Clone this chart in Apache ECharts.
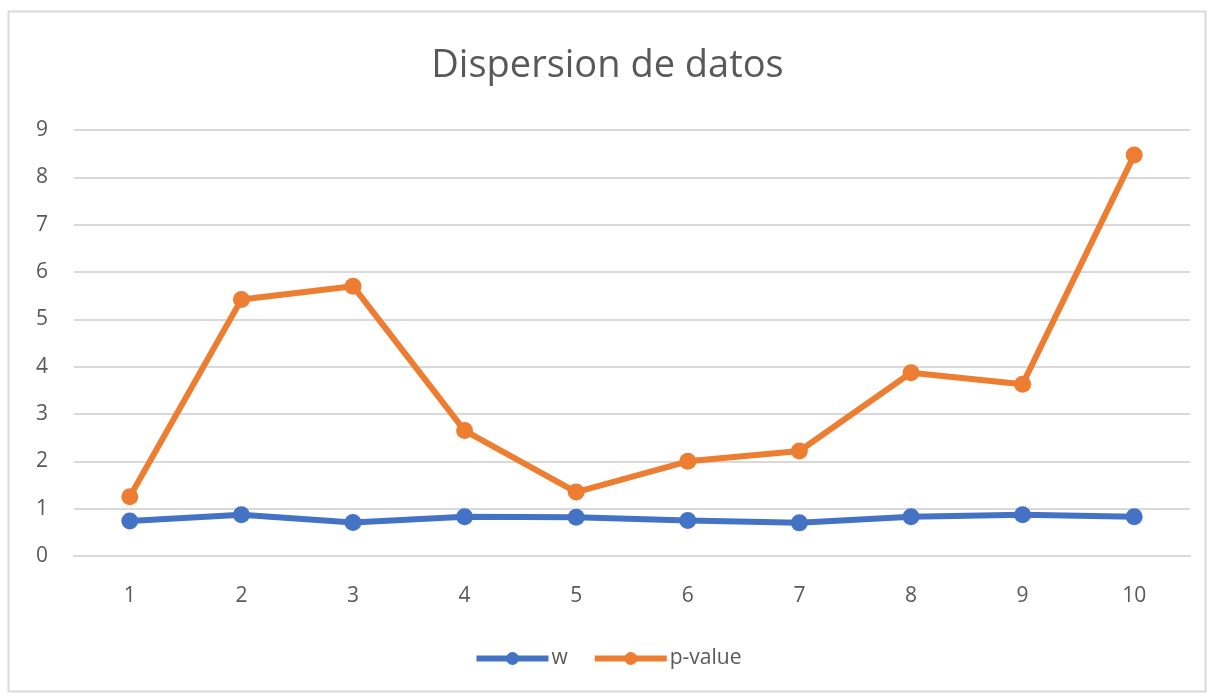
<!DOCTYPE html>
<html>
<head>
<meta charset="utf-8">
<script src="https://cdn.jsdelivr.net/npm/echarts@6/dist/echarts.min.js"></script>
<style>
html,body{margin:0;padding:0;background:#fff;}
#c{width:1215px;height:697px;}
</style>
</head>
<body>
<div id="c"></div>
<script>
const categories = ['1','2','3','4','5','6','7','8','9','10'];
const wValues = [0.74, 0.87, 0.71, 0.83, 0.82, 0.75, 0.70, 0.83, 0.87, 0.83];
const pValues = [1.25, 5.42, 5.70, 2.65, 1.35, 2.00, 2.22, 3.87, 3.63, 8.47];
const seriesNames = ['w', 'p-value'];
const titleText = 'Dispersion de datos';

const chart = echarts.init(document.getElementById('c'));
const font = '"Open Sans", "Noto Sans", sans-serif';
chart.setOption({
  animation: false,
  backgroundColor: '#fff',
  graphic: [{
    type: 'rect', shape: {x: 8.5, y: 11.5, width: 1197, height: 680},
    style: {fill: 'none', stroke: '#d9d9d9', lineWidth: 2}, silent: true
  }],
  title: {
    text: titleText, left: 'center', top: 42,
    textStyle: {fontFamily: font, fontSize: 38, fontWeight: 'normal', color: '#595959'}
  },
  legend: {
    bottom: 23, left: 'center', itemWidth: 72, itemHeight: 16, itemGap: 24,
    lineStyle: {width: 6},
    textStyle: {fontFamily: font, fontSize: 21, color: '#595959', padding: [0, 0, 0, -2]},
    data: seriesNames
  },
  grid: {left: 74, right: 25, top: 130, bottom: 141},
  xAxis: {
    type: 'category', data: categories, boundaryGap: true,
    axisLine: {lineStyle: {color: '#d9d9d9', width: 2}},
    axisTick: {show: false},
    axisLabel: {fontFamily: font, fontSize: 21, color: '#595959', margin: 30}
  },
  yAxis: {
    type: 'value', min: 0, max: 9, interval: 1,
    axisLine: {show: false}, axisTick: {show: false},
    splitLine: {lineStyle: {color: '#d9d9d9', width: 2}},
    axisLabel: {fontFamily: font, fontSize: 21, color: '#595959', margin: 26}
  },
  series: [
    {name: seriesNames[0], type: 'line', data: wValues, symbol: 'circle', symbolSize: 17,
     lineStyle: {width: 6, color: '#4472C4'}, itemStyle: {color: '#4472C4'}},
    {name: seriesNames[1], type: 'line', data: pValues, symbol: 'circle', symbolSize: 17,
     lineStyle: {width: 6, color: '#ED7D31'}, itemStyle: {color: '#ED7D31'}}
  ]
});
</script>
</body>
</html>
